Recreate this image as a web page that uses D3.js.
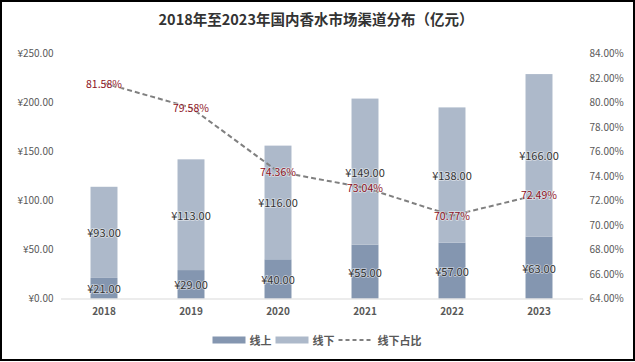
<!DOCTYPE html>
<html>
<head>
<meta charset="utf-8">
<script src="https://cdn.jsdelivr.net/npm/d3@7"></script>
<style>
  body { margin: 0; background: #fff; }
  svg { display: block; font-family: "Noto Sans CJK SC", "Noto Sans", sans-serif; }
</style>
</head>
<body>
<div id="chart"></div>
<script>
// Data
var years = ["2018", "2019", "2020", "2021", "2022", "2023"];
var online = [21, 29, 40, 55, 57, 63];
var offline = [93, 113, 116, 149, 138, 166];
var offlineShare = [0.8158, 0.7958, 0.7436, 0.7304, 0.7077, 0.7249];
var leftTicks = [0, 50, 100, 150, 200, 250];
var rightTicks = [0.64, 0.66, 0.68, 0.70, 0.72, 0.74, 0.76, 0.78, 0.80, 0.82, 0.84];
var seriesNames = ["线上", "线下", "线下占比"];

var svgWidth = 635;
var svgHeight = 362;

// Plot area
var margin = { top: 53.5, right: 52.5, bottom: 63.5, left: 60.5 };
var plotBottom = svgHeight - margin.bottom;
var plotRight = svgWidth - margin.right;

var svg = d3.select("#chart")
  .append("svg")
  .attr("width", svgWidth)
  .attr("height", svgHeight);

// Outer border
svg.append("rect")
  .attr("x", 1).attr("y", 1)
  .attr("width", svgWidth - 2).attr("height", 359)
  .attr("fill", "#fff")
  .attr("stroke", "#000")
  .attr("stroke-width", 2);

// Title
svg.append("text")
  .attr("x", 316)
  .attr("y", 25)
  .attr("text-anchor", "middle")
  .attr("font-size", 14.5)
  .attr("font-weight", "bold")
  .attr("fill", "#333333")
  .text("2018年至2023年国内香水市场渠道分布（亿元）");

// Scales
var xScale = d3.scaleBand()
  .domain(years)
  .range([margin.left, plotRight])
  .paddingInner(0.69)
  .paddingOuter(0.345);

var yScale = d3.scaleLinear()
  .domain([0, 250])
  .range([plotBottom, margin.top]);

var y2Scale = d3.scaleLinear()
  .domain([0.64, 0.84])
  .range([plotBottom, margin.top]);

// Axes
var leftAxis = d3.axisLeft(yScale)
  .tickValues(leftTicks)
  .tickSize(0)
  .tickPadding(7)
  .tickFormat(d => "¥" + d.toFixed(2));

var rightAxis = d3.axisRight(y2Scale)
  .tickValues(rightTicks)
  .tickSize(0)
  .tickPadding(7)
  .tickFormat(d3.format(".2%"));

var bottomAxis = d3.axisBottom(xScale)
  .tickSize(0)
  .tickSizeOuter(0)
  .tickPadding(9);

var gLeft = svg.append("g")
  .attr("transform", `translate(${margin.left}, 0)`)
  .call(leftAxis);
gLeft.select(".domain").remove();

var gRight = svg.append("g")
  .attr("transform", `translate(${plotRight}, 0)`)
  .call(rightAxis);
gRight.select(".domain").remove();

[gLeft, gRight].forEach(function(g) {
  g.selectAll("text")
    .attr("font-size", 10)
    .attr("fill", "#595959")
    .attr("font-family", "Noto Sans CJK SC, sans-serif");
});

// Bars - 线上 (bottom)
var barGroup = svg.append("g");
barGroup.selectAll(".online")
  .data(years)
  .enter()
  .append("rect")
  .attr("class", "online")
  .attr("x", d => xScale(d))
  .attr("width", xScale.bandwidth())
  .attr("y", (d, i) => yScale(online[i]))
  .attr("height", (d, i) => yScale(0) - yScale(online[i]))
  .attr("fill", "#8496B0");

// Bars - 线下 (stacked)
barGroup.selectAll(".offline")
  .data(years)
  .enter()
  .append("rect")
  .attr("class", "offline")
  .attr("x", d => xScale(d))
  .attr("width", xScale.bandwidth())
  .attr("y", (d, i) => yScale(online[i] + offline[i]))
  .attr("height", (d, i) => yScale(online[i]) - yScale(online[i] + offline[i]))
  .attr("fill", "#ADB9CA");

// x axis after bars so the baseline sits on top
var gBottom = svg.append("g")
  .attr("transform", `translate(0, ${plotBottom})`)
  .call(bottomAxis);
gBottom.select(".domain").attr("stroke", "#D9D9D9").attr("stroke-width", 1);
gBottom.selectAll("text")
  .attr("font-size", 10)
  .attr("font-weight", "bold")
  .attr("fill", "#595959")
  .attr("font-family", "Noto Sans CJK SC, sans-serif");

// Line - 线下占比
var line = d3.line()
  .x((d, i) => xScale(years[i]) + xScale.bandwidth() / 2)
  .y(d => y2Scale(d));

svg.append("path")
  .datum(offlineShare)
  .attr("d", line)
  .attr("fill", "none")
  .attr("stroke", "#808080")
  .attr("stroke-width", 2)
  .attr("stroke-dasharray", "5,3");

// Data labels
var labelGroup = svg.append("g")
  .attr("font-size", 11)
  .attr("text-anchor", "middle")
  .attr("dominant-baseline", "central");

function halo(sel) {
  sel.attr("stroke", "#ffffff")
    .attr("stroke-width", 1.6)
    .attr("stroke-opacity", 0.55)
    .attr("paint-order", "stroke");
}

labelGroup.selectAll(".lblOnline")
  .data(online)
  .enter()
  .append("text")
  .attr("x", (d, i) => xScale(years[i]) + xScale.bandwidth() / 2)
  .attr("y", d => (yScale(0) + yScale(d)) / 2)
  .attr("fill", "#333333")
  .text(d => "¥" + d.toFixed(2))
  .call(halo);

labelGroup.selectAll(".lblOffline")
  .data(offline)
  .enter()
  .append("text")
  .attr("x", (d, i) => xScale(years[i]) + xScale.bandwidth() / 2)
  .attr("y", (d, i) => (yScale(online[i]) + yScale(online[i] + d)) / 2)
  .attr("fill", "#333333")
  .text(d => "¥" + d.toFixed(2))
  .call(halo);

labelGroup.selectAll(".lblShare")
  .data(offlineShare)
  .enter()
  .append("text")
  .attr("x", (d, i) => xScale(years[i]) + xScale.bandwidth() / 2)
  .attr("y", d => y2Scale(d))
  .attr("font-size", 10.5)
  .attr("fill", "#8C1022")
  .text(d => d3.format(".2%")(d))
  .call(halo);

// Legend
var legend = svg.append("g");
var legendY = 340;
var cursor = 0;
seriesNames.forEach(function(name, i) {
  var item = legend.append("g").attr("transform", `translate(${cursor}, 0)`);
  if (i < 2) {
    item.append("rect")
      .attr("x", 0).attr("y", legendY - 3.5)
      .attr("width", 33).attr("height", 7)
      .attr("fill", i === 0 ? "#8496B0" : "#ADB9CA");
  } else {
    item.append("line")
      .attr("x1", 0).attr("x2", 33)
      .attr("y1", legendY).attr("y2", legendY)
      .attr("stroke", "#808080")
      .attr("stroke-width", 2)
      .attr("stroke-dasharray", "4,3");
  }
  var t = item.append("text")
    .attr("x", i === 2 ? 39 : 37)
    .attr("y", legendY)
    .attr("dominant-baseline", "central")
    .attr("font-size", 11)
    .attr("font-weight", "bold")
    .attr("fill", "#595959")
    .text(name);
  cursor += (i === 2 ? 39 : 37) + t.node().getComputedTextLength() + 4;
});
var legendWidth = cursor - 4;
legend.attr("transform", `translate(${317 - legendWidth / 2}, 0)`);
</script>
</body>
</html>
